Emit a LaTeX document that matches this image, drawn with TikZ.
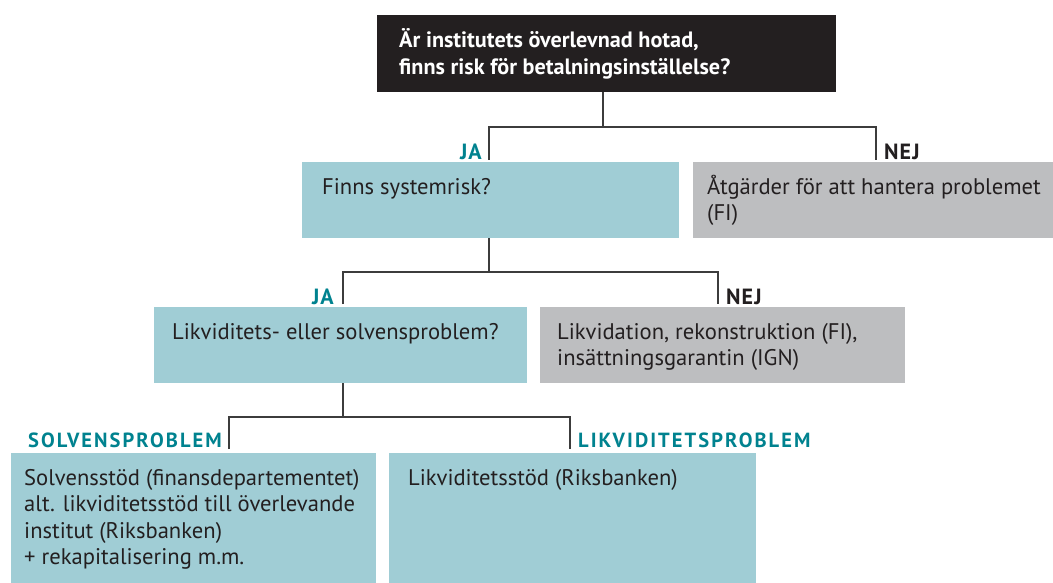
\documentclass[tikz,border=0pt]{standalone}
\usepackage{fontspec}
\setmainfont{PT Sans}
\newfontfamily\spacedbold{PT Sans}[LetterSpace=10]
\newfontfamily\lblbold{PT Sans}[LetterSpace=5]
\usetikzlibrary{calc}
\definecolor{boxteal}{HTML}{A0CDD5}
\definecolor{boxgray}{HTML}{BDBEC0}
\definecolor{boxblack}{HTML}{231F20}
\definecolor{labelteal}{HTML}{00828F}
\definecolor{linegray}{HTML}{3C3C3C}
\definecolor{textdark}{HTML}{231F20}
\newcommand\mylines[1]{\begin{tabular}[t]{@{}l@{}}#1\end{tabular}}
\begin{document}
\begin{tikzpicture}[x=1pt,y=-1pt,
  box/.style={anchor=north west, inner sep=0pt, outer sep=0pt, draw=none},
  tealbox/.style={box, fill=boxteal},
  graybox/.style={box, fill=boxgray},
  blackbox/.style={box, fill=boxblack},
  body/.style={anchor=base west, inner sep=0pt, text=textdark, font=\fontsize{22.6}{26.5}\selectfont},
  headtext/.style={anchor=base west, inner sep=0pt, text=white, font=\fontsize{22.2}{27}\selectfont\bfseries},
  jalabel/.style={anchor=base east, inner sep=0pt, text=labelteal, font=\fontsize{22}{24}\selectfont\lblbold\bfseries},
  nejlabel/.style={anchor=base west, inner sep=0pt, text=textdark, font=\fontsize{22}{24}\selectfont\lblbold\bfseries},
  caplabel/.style={inner sep=0pt, text=labelteal, font=\fontsize{20.5}{24}\selectfont\spacedbold\bfseries},
  conn/.style={draw=linegray, line width=1.3pt}
]
\useasboundingbox (0,0) rectangle (1053,583);

% boxes
\node[blackbox, minimum width=459pt, minimum height=77pt] (top) at (377,15) {};
\node[tealbox, minimum width=377pt, minimum height=76pt] (finns) at (302,162) {};
\node[graybox, minimum width=360pt, minimum height=76pt] (atg) at (693,162) {};
\node[tealbox, minimum width=373pt, minimum height=76pt] (likv) at (154,307) {};
\node[graybox, minimum width=365pt, minimum height=76pt] (likvid) at (540,307) {};
\node[tealbox, minimum width=365pt, minimum height=130pt] (solv) at (11,453) {};
\node[tealbox, minimum width=367pt, minimum height=130pt] (likst) at (389,453) {};

% texts
\node[headtext] (toptext) at ($(top.north west)+(22,33)$) {\mylines{Är institutets överlevnad hotad,\\finns risk för betalningsinställelse?}};
\node[body] (finnstext) at ($(finns.north west)+(20,33)$) {Finns systemrisk?};
\node[body] (atgtext) at ($(atg.north west)+(14,32)$) {\mylines{Åtgärder för att hantera problemet\\(FI)}};
\node[body] (likvtext) at ($(likv.north west)+(18,32)$) {Likviditets- eller solvensproblem?};
\node[body] (likvidtext) at ($(likvid.north west)+(17,32)$) {\mylines{Likvidation, rekonstruktion (FI),\\insättningsgarantin (IGN)}};
\node[body] (solvtext) at ($(solv.north west)+(13,32)$) {\mylines{Solvensstöd (finansdepartementet)\\alt. likviditetsstöd till överlevande\\institut (Riksbanken)\\+ rekapitalisering m.m.}};
\node[body] (liksttext) at ($(likst.north west)+(19,32)$) {Likviditetsstöd (Riksbanken)};

% connector points
\coordinate (ja1) at (489,160);
\coordinate (nej1) at (876,160);
\coordinate (ja2) at (343,304);
\coordinate (nej2) at (718,304);
\coordinate (sp) at (229,449);
\coordinate (lp) at (570,449);

% connectors
\draw[conn] ([xshift=-3.5pt]top.south) -- ++(0,35) coordinate (h1);
\draw[conn] (ja1) |- (h1) -| (nej1);
\draw[conn] (finns.south -| ja1) -- ++(0,34) coordinate (h2);
\draw[conn] (ja2) |- (h2) -| (nej2);
\draw[conn] (likv.south -| ja2) -- ++(0,34) coordinate (h3);
\draw[conn] (sp) |- (h3) -| (lp);

% labels
\node[jalabel] (jal1) at ($(ja1)+(-7,0)$) {JA};
\node[nejlabel] (nejl1) at ($(nej1)+(8,0)$) {NEJ};
\node[jalabel] (jal2) at ($(ja2)+(-9,0)$) {JA};
\node[nejlabel] (nejl2) at ($(nej2)+(8,0)$) {NEJ};
\node[caplabel, anchor=base east] (spl) at ($(sp)+(-7,-2)$) {SOLVENSPROBLEM};
\node[caplabel, anchor=base west] (lpl) at ($(lp)+(8,-2)$) {LIKVIDITETSPROBLEM};
\end{tikzpicture}
\end{document}
